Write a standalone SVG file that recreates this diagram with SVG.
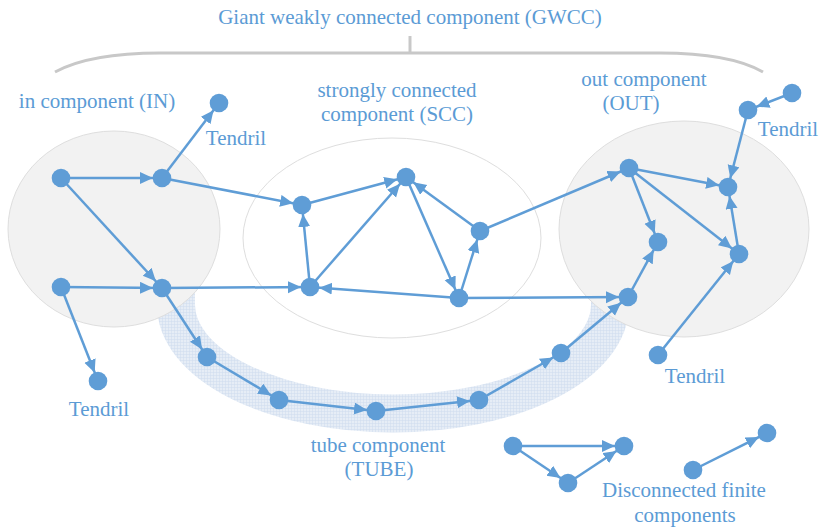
<svg xmlns="http://www.w3.org/2000/svg" width="819" height="528" viewBox="0 0 819 528">
<style>
.t{font-family:'Liberation Serif','Times New Roman','DejaVu Serif',serif;font-size:21px;fill:#5b9bd5}
.n{fill:#5f9dd6}
.e line{stroke:#5f9dd6;stroke-width:2.5;marker-end:url(#ah)}
.reg{stroke:#dedede;stroke-width:1}
</style>
<defs>
<marker id="ah" markerUnits="userSpaceOnUse" markerWidth="40" markerHeight="20" viewBox="0 0 40 20" refX="22" refY="6" orient="auto">
<path d="M0,0 L13,6 L0,12 z" fill="#5f9dd6"/>
</marker>
<pattern id="hatch" patternUnits="userSpaceOnUse" width="3" height="3">
<rect width="3" height="3" fill="#e6edf6"/>
<path d="M0,0 H3 M0,0 V3" stroke="#cfdcee" stroke-width="1"/>
</pattern>
</defs>
<rect width="819" height="528" fill="#fff"/>
<g id="bracket" fill="none" stroke="#c8c8c8" stroke-width="3">
<path d="M55,72 Q90,53 160,53 H660 Q730,53 763,72"/>
<line x1="410" y1="36" x2="410" y2="53"/>
</g>
<g id="regions">
<path d="M176,290 L176,305 A216,108 0 0 0 610,305 L610,290" fill="none" stroke="url(#hatch)" stroke-width="38"/>
<ellipse class="reg" cx="114" cy="229" rx="106" ry="98" fill="#f2f2f2"/>
<ellipse class="reg" cx="392" cy="238" rx="149" ry="100" fill="#fff"/>
<ellipse class="reg" cx="684" cy="229" rx="125" ry="108" fill="#f2f2f2"/>
</g>
<g id="labels">
<text class="t" x="410" y="24" text-anchor="middle">Giant weakly connected component (GWCC)</text>
<text class="t" x="97" y="108" text-anchor="middle">in component (IN)</text>
<text class="t" x="397" y="97" text-anchor="middle">strongly connected</text>
<text class="t" x="397" y="121" text-anchor="middle">component (SCC)</text>
<text class="t" x="644" y="86" text-anchor="middle">out component</text>
<text class="t" x="631" y="110" text-anchor="middle">(OUT)</text>
<text class="t" x="236" y="145" text-anchor="middle">Tendril</text>
<text class="t" x="788" y="136" text-anchor="middle">Tendril</text>
<text class="t" x="99" y="416" text-anchor="middle">Tendril</text>
<text class="t" x="695" y="383" text-anchor="middle">Tendril</text>
<text class="t" x="378" y="452" text-anchor="middle">tube component</text>
<text class="t" x="379" y="476" text-anchor="middle">(TUBE)</text>
<text class="t" x="684" y="497" text-anchor="middle">Disconnected finite</text>
<text class="t" x="685" y="522" text-anchor="middle">components</text>
</g>
<g id="connectors" class="e">
<line x1="61" y1="178" x2="162" y2="178"/>
<line x1="61" y1="178" x2="162" y2="288"/>
<line x1="61" y1="287" x2="162" y2="288"/>
<line x1="61" y1="287" x2="98" y2="381"/>
<line x1="162" y1="178" x2="219" y2="103"/>
<line x1="162" y1="178" x2="302" y2="205"/>
<line x1="162" y1="288" x2="310" y2="287"/>
<line x1="162" y1="288" x2="207" y2="357"/>
<line x1="207" y1="357" x2="279" y2="400"/>
<line x1="279" y1="400" x2="376" y2="411"/>
<line x1="376" y1="411" x2="479" y2="400"/>
<line x1="479" y1="400" x2="561" y2="353"/>
<line x1="561" y1="353" x2="628" y2="297"/>
<line x1="310" y1="287" x2="302" y2="205"/>
<line x1="310" y1="287" x2="406" y2="177"/>
<line x1="302" y1="205" x2="406" y2="177"/>
<line x1="406" y1="177" x2="459" y2="298"/>
<line x1="480" y1="231" x2="406" y2="177"/>
<line x1="459" y1="298" x2="480" y2="231"/>
<line x1="459" y1="298" x2="310" y2="287"/>
<line x1="480" y1="231" x2="629" y2="168"/>
<line x1="459" y1="298" x2="628" y2="297"/>
<line x1="628" y1="297" x2="658" y2="242"/>
<line x1="629" y1="168" x2="658" y2="242"/>
<line x1="629" y1="168" x2="728" y2="187"/>
<line x1="629" y1="168" x2="739" y2="254"/>
<line x1="739" y1="254" x2="728" y2="187"/>
<line x1="748" y1="110" x2="728" y2="187"/>
<line x1="792" y1="93" x2="748" y2="110"/>
<line x1="658" y1="355" x2="739" y2="254"/>
<line x1="513" y1="446" x2="624" y2="446"/>
<line x1="513" y1="446" x2="568" y2="483"/>
<line x1="568" y1="483" x2="624" y2="446"/>
<line x1="693" y1="470" x2="767" y2="433"/>
</g>
<g id="in1"><circle class="n" cx="61" cy="178" r="9.3"/></g>
<g id="in2"><circle class="n" cx="162" cy="178" r="9.3"/></g>
<g id="in3"><circle class="n" cx="61" cy="287" r="9.3"/></g>
<g id="in4"><circle class="n" cx="162" cy="288" r="9.3"/></g>
<g id="tendril-in-top"><circle class="n" cx="219" cy="103" r="9.3"/></g>
<g id="tendril-in-bottom"><circle class="n" cx="98" cy="381" r="9.3"/></g>
<g id="scc1"><circle class="n" cx="302" cy="205" r="9.3"/></g>
<g id="scc2"><circle class="n" cx="406" cy="177" r="9.3"/></g>
<g id="scc3"><circle class="n" cx="480" cy="231" r="9.3"/></g>
<g id="scc4"><circle class="n" cx="310" cy="287" r="9.3"/></g>
<g id="scc5"><circle class="n" cx="459" cy="298" r="9.3"/></g>
<g id="out1"><circle class="n" cx="629" cy="168" r="9.3"/></g>
<g id="out2"><circle class="n" cx="728" cy="187" r="9.3"/></g>
<g id="out3"><circle class="n" cx="658" cy="242" r="9.3"/></g>
<g id="out4"><circle class="n" cx="739" cy="254" r="9.3"/></g>
<g id="out5"><circle class="n" cx="628" cy="297" r="9.3"/></g>
<g id="tendril-out1"><circle class="n" cx="748" cy="110" r="9.3"/></g>
<g id="tendril-out2"><circle class="n" cx="792" cy="93" r="9.3"/></g>
<g id="tendril-out3"><circle class="n" cx="658" cy="355" r="9.3"/></g>
<g id="tube1"><circle class="n" cx="207" cy="357" r="9.3"/></g>
<g id="tube2"><circle class="n" cx="279" cy="400" r="9.3"/></g>
<g id="tube3"><circle class="n" cx="376" cy="411" r="9.3"/></g>
<g id="tube4"><circle class="n" cx="479" cy="400" r="9.3"/></g>
<g id="tube5"><circle class="n" cx="561" cy="353" r="9.3"/></g>
<g id="dis1"><circle class="n" cx="513" cy="446" r="9.3"/></g>
<g id="dis2"><circle class="n" cx="624" cy="446" r="9.3"/></g>
<g id="dis3"><circle class="n" cx="568" cy="483" r="9.3"/></g>
<g id="dis4"><circle class="n" cx="767" cy="433" r="9.3"/></g>
<g id="dis5"><circle class="n" cx="693" cy="470" r="9.3"/></g>
</svg>
